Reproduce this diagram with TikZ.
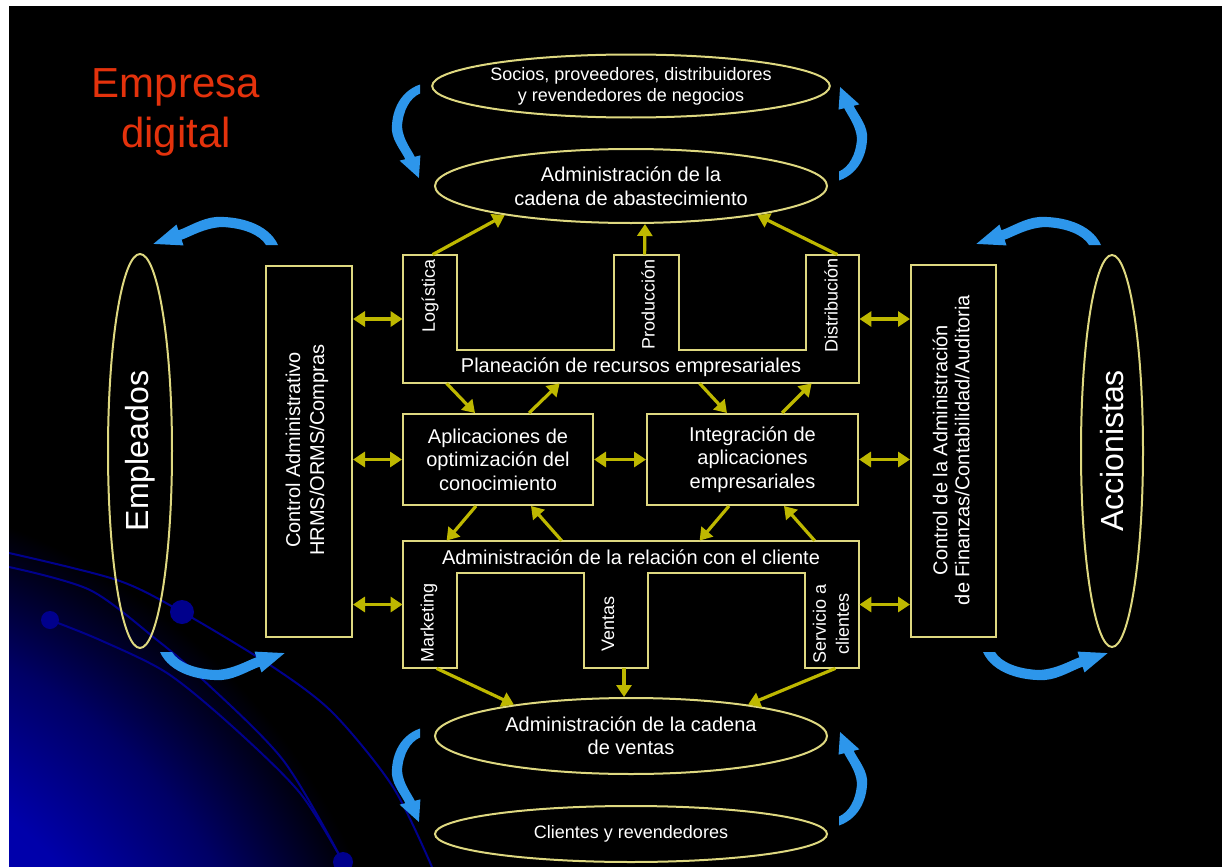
\documentclass[tikz,border=0pt]{standalone}
\usepackage{fontspec}
\setmainfont{Liberation Sans}
\usetikzlibrary{shapes.geometric}
\usetikzlibrary{arrows.meta}
\definecolor{frame}{RGB}{222,216,128}
\definecolor{flowy}{RGB}{190,184,0}
\definecolor{swirlblue}{RGB}{45,150,235}
\definecolor{titlered}{RGB}{228,50,12}
\definecolor{navyline}{RGB}{0,0,140}
\definecolor{glowblue}{RGB}{0,0,185}
\pgfdeclareradialshading{cornerglow}{\pgfpoint{0bp}{0bp}}{color(0bp)=(glowblue); color(15bp)=(glowblue!92!black); color(20bp)=(glowblue!55!black); color(25bp)=(black); color(50bp)=(black)}
\tikzset{ring/.style={
  draw=frame,
  line width=1pt,
  ellipse,
  inner sep=0pt,
  text=white,
  align=center
}}
\tikzset{panel/.style={
  draw=frame,
  line width=1pt,
  rectangle,
  inner sep=0pt,
  text=white,
  align=center
}}
\tikzset{outline/.style={draw=frame,line width=1pt}}
\tikzset{lbl/.style={text=white,align=center,inner sep=0pt}}
\tikzset{flow/.style={
  draw=flowy,
  line width=1.6pt,
  -{Triangle[length=6pt,width=7.5pt]}
}}
\tikzset{flowboth/.style={flow,{Triangle[length=6pt,width=7.5pt]}-{Triangle[length=6pt,width=7.5pt]}}}
\tikzset{swirl/.pic={
  \fill[swirlblue] (62,12) .. controls (52,-10) and (22,-17) .. (0,-16)
    .. controls (-14,-15) and (-28.6,-5.7) .. (-37.6,-2.7)
    -- (-39.5,-8.4) -- (-62.6,10.9) -- (-32.5,12.4) -- (-34.4,6.7)
    .. controls (-25.4,3.7) and (-12,-5) .. (6,-6)
    .. controls (28,-5) and (44,2) .. (50,12) -- cycle;
}}
\tikzset{upright/.style={x={(0pt,0.375pt)},y={(0.5pt,0pt)}}}
\tikzset{downleft/.style={x={(0pt,-0.375pt)},y={(-0.5pt,0pt)}}}
\tikzset{flipped/.style={x={(-0.5pt,0pt)},y={(0pt,0.5pt)}}}

\begin{document}
\begin{tikzpicture}[x=0.5pt,y=-0.5pt]
    \useasboundingbox (0,0) rectangle (1222,867);
    \fill[white] (0,0) rectangle (1222,867);
    \fill[black] (9,6) rectangle (1222,867);

    % Corner glow and orbits
    \begin{scope}
      \clip (9,6) rectangle (1222,867);
      \shade[shading=cornerglow] (-230,1120) circle (640);
      \draw[navyline,line width=1pt] plot[smooth] coordinates
        {(9,553) (117,580) (182,612) (273,667) (333,713) (393,787) (432,867)};
      \draw[navyline,line width=1pt] plot[smooth] coordinates
        {(9,567) (90,590) (157,640) (200,677) (283,760) (343,862)};
      \draw[navyline,line width=1pt] plot[smooth] coordinates
        {(50,620) (100,640) (167,673) (233,727) (300,793) (343,862)};
      \fill[navyline] (182,612) circle (12);
      \fill[navyline] (50,620) circle (9);
      \fill[navyline] (343,862) circle (10);
    \end{scope}

    % Title
    \node[text=titlered,align=center,font=\fontsize{21}{25}\selectfont] (title)
      at (176,112) {Empresa\\digital};

    % Partners and customers
    \node[ring,minimum width=196pt,minimum height=31.5pt,font=\fontsize{9}{10.5}\selectfont] (socios)
      at (631,86) {Socios, proveedores, distribuidores\\y revendedores de negocios};
    \node[ring,minimum width=196pt,minimum height=37pt,font=\fontsize{10}{12}\selectfont] (scm)
      at (631,186) {Administración de la\\cadena de abastecimiento};
    \node[ring,minimum width=196pt,minimum height=38pt,font=\fontsize{10}{11.5}\selectfont] (cventas)
      at (631,736) {Administración de la cadena\\de ventas};
    \node[ring,minimum width=196pt,minimum height=28pt,font=\fontsize{9}{11}\selectfont] (clientes)
      at (631,834) {Clientes y revendedores};
    \node[ring,rotate=90,minimum width=197pt,minimum height=32pt,font=\fontsize{16}{19}\selectfont] (empl)
      at (140,451) {Empleados};
    \node[ring,rotate=90,minimum width=196pt,minimum height=31pt,font=\fontsize{16}{19}\selectfont] (accio)
      at (1112,451) {Accionistas};

    % Control panels
    \node[panel,minimum width=43pt,minimum height=185.5pt] (ctlL) at (309,451.5) {};
    \node[lbl,rotate=90,font=\fontsize{10}{12}\selectfont] (ctlLtxt)
      at (307,450) {Control Administrativo\\HRMS/ORMS/Compras};
    \node[panel,minimum width=42.5pt,minimum height=186pt] (ctlR) at (953.5,451) {};
    \node[lbl,rotate=90,font=\fontsize{10}{11}\selectfont] (ctlRtxt)
      at (951,450) {Control de la Administración\\de Finanzas/Contabilidad/Auditoria};

    % ERP block
    \node[minimum width=228pt,minimum height=64pt,inner sep=0pt] (erp) at (631,319) {};
    \draw[outline] (403,255) -- (457,255) -- (457,350) -- (614,350) -- (614,255)
      -- (679,255) -- (679,350) -- (806,350) -- (806,255) -- (859,255)
      -- (859,383) -- (403,383) -- cycle;
    \node[lbl,font=\fontsize{10}{12}\selectfont] (erplbl) at (631,367) {Planeación de recursos empresariales};
    \node[lbl,rotate=90,font=\fontsize{9}{11}\selectfont] (logi) at (430,296) {Logística};
    \node[lbl,rotate=90,font=\fontsize{9}{11}\selectfont] (prod) at (648,304) {Producción};
    \node[lbl,rotate=90,font=\fontsize{9}{11}\selectfont] (dist) at (831,305) {Distribución};

    % Middle applications
    \node[panel,minimum width=95pt,minimum height=45.5pt,font=\fontsize{10}{11.8}\selectfont] (kapp)
      at (498,459.5) {Aplicaciones de\\optimización del\\conocimiento};
    \node[panel,minimum width=105.5pt,minimum height=45.5pt,font=\fontsize{10}{11.8}\selectfont] (eai)
      at (752.5,459.5) {Integración de\\aplicaciones\\empresariales};

    % CRM block
    \node[minimum width=228pt,minimum height=63.5pt,inner sep=0pt] (crm) at (631,604.5) {};
    \draw[outline] (403,541) -- (859,541) -- (859,668) -- (805,668) -- (805,573)
      -- (648,573) -- (648,668) -- (584,668) -- (584,573) -- (457,573)
      -- (457,668) -- (403,668) -- cycle;
    \node[lbl,font=\fontsize{10}{12}\selectfont] (crmlbl) at (631,557) {Administración de la relación con el cliente};
    \node[lbl,rotate=90,font=\fontsize{9}{11}\selectfont] (mkt) at (429,623) {Marketing};
    \node[lbl,rotate=90,font=\fontsize{9}{11}\selectfont] (vts) at (608,624) {Ventas};
    \node[lbl,rotate=90,font=\fontsize{9}{11.5}\selectfont] (serv) at (831,624) {Servicio a\\clientes};

    % Flows to the supply and sales chains
    \draw[flow] ([shift={(30,0)}]erp.north west) -- (scm.193);
    \draw[flow] ([shift={(242,0)}]erp.north west) -- ([xshift=7pt]scm.south);
    \draw[flow] ([shift={(-22,0)}]erp.north east) -- (scm.347);
    \draw[flow] ([shift={(34,0)}]crm.south west) -- (cventas.165);
    \draw[flow] ([shift={(-7,0)}]crm.south) -- ([xshift=-3.5pt]cventas.north);
    \draw[flow] ([shift={(-24,0)}]crm.south east) -- (cventas.15);

    % Side exchanges
    \draw[flowboth] (ctlL.east |- erp.west) -- (erp.west);
    \draw[flowboth] (ctlL.east |- kapp.west) -- (kapp.west);
    \draw[flowboth] (ctlL.east |- crm.west) -- (crm.west);
    \draw[flowboth] (erp.east) -- (ctlR.west |- erp.east);
    \draw[flowboth] (eai.east) -- (ctlR.west |- eai.east);
    \draw[flowboth] (crm.east) -- (ctlR.west |- crm.east);
    \draw[flowboth] (kapp.east) -- (eai.west);

    % Diagonal flows
    \draw[flow] ([shift={(44,0)}]erp.south west) -- ([shift={(73,0)}]kapp.north west);
    \draw[flow] ([shift={(127,0)}]kapp.north west) -- ([shift={(157,0)}]erp.south west);
    \draw[flow] ([shift={(297,0)}]erp.south west) -- ([shift={(81,0)}]eai.north west);
    \draw[flow] ([shift={(136,0)}]eai.north west) -- ([shift={(409,0)}]erp.south west);
    \draw[flow] ([shift={(74,0)}]kapp.south west) -- ([shift={(44,0)}]crm.north west);
    \draw[flow] ([shift={(159,0)}]crm.north west) -- ([shift={(129,0)}]kapp.south west);
    \draw[flow] ([shift={(83,0)}]eai.south west) -- ([shift={(297,0)}]crm.north west);
    \draw[flow] ([shift={(412,0)}]crm.north west) -- ([shift={(138,0)}]eai.south west);

    % Blue cycle arrows
    \pic[shift={(216,233)}] {swirl};
    \pic[shift={(1039,233)}] {swirl};
    \begin{scope}[shift={(222,664)}] \pic[flipped] {swirl}; \end{scope}
    \begin{scope}[shift={(1045,664)}] \pic[flipped] {swirl}; \end{scope}
    \begin{scope}[shift={(408,131)}] \pic[upright] {swirl}; \end{scope}
    \begin{scope}[shift={(408,775)}] \pic[upright] {swirl}; \end{scope}
    \begin{scope}[shift={(851,134)}] \pic[downleft] {swirl}; \end{scope}
    \begin{scope}[shift={(851,779)}] \pic[downleft] {swirl}; \end{scope}

\end{tikzpicture}
\end{document}
